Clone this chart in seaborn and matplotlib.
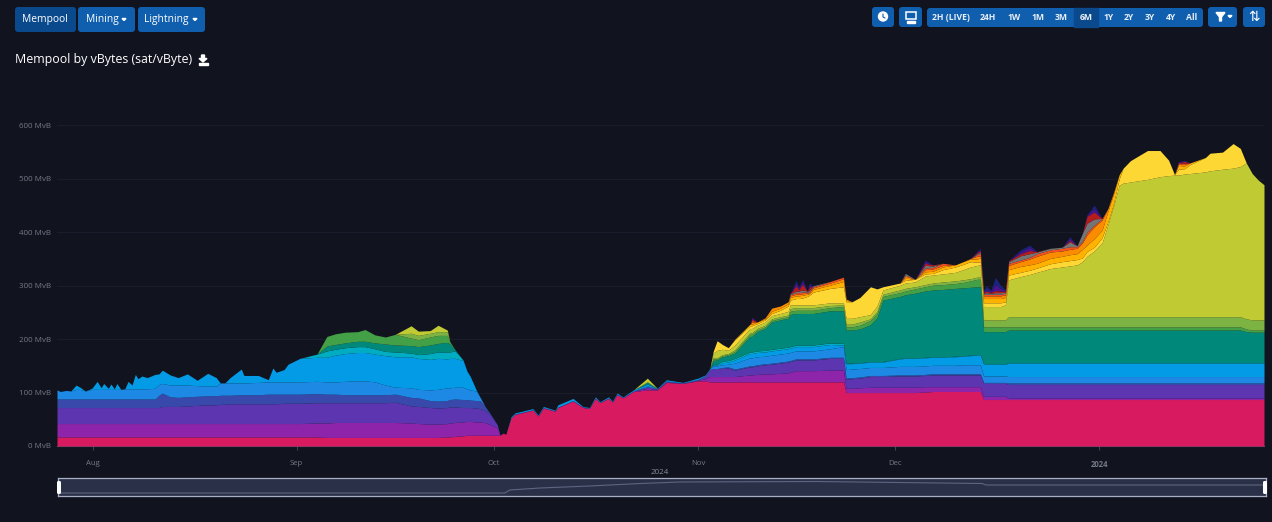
import numpy as np
import pandas as pd
import matplotlib
matplotlib.use("Agg")
import matplotlib.pyplot as plt
from matplotlib.patches import FancyBboxPatch, Rectangle, Circle, Polygon
import seaborn as sns

# days since 1 Aug 2023, same line layout in every series below
days = [
    -5.4, -4.9, -4.0, -3.3, -2.5, -1.9, -1.1, -0.1, 0.7, 1.3,
    1.7, 2.4, 2.8, 3.3, 3.7, 4.3, 4.9, 5.4, 6.0, 6.5,
    6.9, 7.5, 8.3, 9.5, 10.1, 10.6, 11.8, 13.0, 14.4, 15.9,
    17.5, 18.8, 19.4, 20.1, 20.9, 22.6, 23.0, 25.2, 26.7, 27.4,
    27.9, 29.1, 29.7, 31.5, 34.1, 35.6, 36.9, 38.4, 40.3, 41.4,
    42.9, 44.5, 46.0, 48.4, 49.5, 51.3, 52.5, 53.9, 54.3, 55.1,
    56.3, 56.9, 57.4, 58.3, 58.9, 59.6, 60.4, 61.5, 61.9, 62.4,
    62.8, 63.6, 64.2, 66.9, 67.7, 68.5, 70.3, 70.7, 73.0, 74.5,
    75.5, 76.4, 77.1, 78.4, 79.0,
    79.7, 80.6, 82.2, 84.3, 85.8, 87.2, 89.7, 92.0, 93.1, 93.8,
    94.3, 94.9, 95.7, 96.6, 97.6, 99.9, 100.2, 101.0, 102.2, 103.2,
    104.5, 105.7, 106.0, 106.9, 107.3, 107.9, 108.6, 108.9, 109.5, 112.1,
    114.1, 114.5, 115.4, 116.6, 118.2, 119.2, 120.1, 122.7, 123.5, 125.0,
    126.5, 127.7, 129.2, 131.1, 132.3, 133.4, 134.4, 134.9, 135.4, 135.8,
    136.5, 137.2, 138.0, 138.7, 139.2, 141.0, 142.4, 143.5, 145.5, 147.3,
    148.5, 149.6, 150.4, 151.1, 152.2, 153.4, 154.3, 155.1, 156.0, 156.6,
    157.7, 159.2, 160.3, 162.2, 163.5, 164.4, 165.0, 165.9, 166.8, 169.1,
    169.8, 171.7, 173.3, 174.4, 175.3, 176.2, 177.1, 178.0,
]

# MvB per fee band, lowest band first
pink = [
    17, 17, 17, 17, 17, 17, 17, 17, 17, 17,
    17, 17, 17, 17, 17, 17, 17, 17, 17, 17,
    17, 17, 17, 17, 17, 17, 17, 17, 17, 17,
    17, 17, 17, 17, 17, 17, 17, 17, 17, 17,
    17, 17, 17, 17, 17, 16, 16, 16, 16, 16,
    16, 16, 16, 16, 16, 16, 16, 17, 17, 18,
    19, 20, 20, 20, 20, 20, 20, 20, 20, 24,
    22, 53, 59, 67, 56, 71, 65, 72, 84, 72,
    70, 89, 81, 89, 82,
    96, 90, 102, 105, 105, 119, 117, 122, 122, 120,
    120, 120, 120, 120, 120, 120, 120, 120, 120, 120,
    120, 120, 120, 120, 120, 120, 120, 120, 120, 120,
    120, 100, 100, 100, 100, 100, 100, 100, 100, 100,
    101, 102, 102, 102, 102, 102, 102, 102, 87, 87,
    87, 87, 87, 87, 87, 87, 87, 87, 87, 87,
    87, 87, 87, 87, 87, 87, 87, 87, 87, 87,
    87, 87, 87, 87, 87, 87, 87, 87, 87, 87,
    87, 87, 87, 87, 87, 87, 87, 87,
]
purple = [
    25, 25, 25, 25, 25, 25, 25, 25, 25, 25,
    25, 25, 25, 25, 25, 25, 25, 25, 25, 25,
    25, 25, 25, 25, 25, 25, 25, 25, 25, 25,
    25, 25, 25, 25, 25, 25, 25, 25, 25, 25,
    25, 25, 25, 25, 26, 27, 28, 28, 28, 28,
    28, 28, 28, 27, 26, 25, 25, 25, 26, 26,
    26, 26, 26, 25, 25, 24, 20, 14, 1, 0,
    0, 0, 1, 1, 1, 1, 1, 1, 1, 1,
    1, 1, 1, 1, 1,
    1, 1, 1, 3, 1, 1, 1, 1, 4, 10,
    10, 10, 10, 10, 10, 13, 13, 14, 15, 15,
    16, 17, 18, 21, 21, 21, 21, 21, 21, 22,
    22, 8, 8, 9, 10, 10, 10, 10, 10, 10,
    10, 9, 9, 9, 9, 9, 9, 9, 6, 6,
    6, 6, 6, 6, 3, 3, 3, 3, 3, 3,
    3, 3, 3, 3, 3, 3, 3, 3, 3, 3,
    3, 3, 3, 3, 3, 3, 3, 3, 3, 3,
    3, 3, 3, 3, 3, 3, 3, 3,
]
deep_purple = [
    30, 30, 30, 30, 30, 30, 30, 30, 30, 30,
    30, 30, 30, 30, 30, 30, 30, 30, 30, 30,
    30, 30, 30, 30, 30, 32, 32, 32, 33, 34,
    35, 35, 36, 36, 37, 37, 37, 37, 37, 37,
    37, 38, 38, 38, 38, 38, 37, 37, 37, 37,
    37, 37, 38, 32, 32, 31, 30, 30, 30, 29,
    27, 26, 26, 26, 25, 23, 19, 6, 0, 0,
    0, 0, 0, 0, 0, 0, 0, 0, 0, 0,
    0, 0, 0, 0, 0,
    0, 0, 0, 3, 1, 1, 0, 1, 5, 13,
    15, 15, 15, 16, 12, 15, 15, 16, 17, 18,
    19, 20, 20, 20, 20, 20, 20, 20, 20, 22,
    22, 17, 18, 18, 20, 20, 20, 21, 21, 21,
    21, 22, 22, 22, 22, 22, 22, 22, 24, 24,
    24, 24, 24, 24, 25, 25, 25, 25, 25, 25,
    25, 25, 25, 25, 25, 25, 25, 25, 25, 25,
    25, 25, 25, 25, 25, 25, 25, 25, 25, 25,
    25, 25, 25, 25, 25, 25, 25, 25,
]
indigo = [
    16, 16, 16, 16, 16, 16, 16, 16, 16, 16,
    16, 16, 16, 16, 16, 16, 16, 16, 16, 16,
    16, 16, 16, 16, 23, 25, 18, 17, 17, 17,
    17, 17, 17, 17, 16, 17, 17, 17, 18, 18,
    18, 17, 17, 17, 17, 16, 16, 15, 15, 15,
    15, 15, 15, 16, 16, 13, 13, 13, 14, 15,
    15, 15, 14, 14, 15, 8, 2, 0, 0, 0,
    0, 0, 0, 0, 0, 0, 0, 0, 0, 0,
    0, 0, 0, 0, 0,
    0, 0, 0, 0, 0, 0, 0, 0, 0, 0,
    0, 0, 2, 2, 2, 2, 2, 2, 2, 2,
    2, 2, 2, 2, 2, 2, 2, 2, 2, 2,
    2, 2, 2, 2, 2, 2, 2, 2, 2, 2,
    2, 2, 2, 2, 2, 2, 2, 2, 2, 2,
    2, 2, 2, 2, 3, 3, 3, 3, 3, 3,
    3, 3, 3, 3, 3, 3, 3, 3, 3, 3,
    3, 3, 3, 3, 3, 3, 3, 3, 3, 3,
    3, 3, 3, 3, 3, 3, 3, 3,
]
blue = [
    17, 14, 16, 15, 18, 18, 15, 18, 18, 18,
    18, 18, 18, 18, 18, 18, 19, 19, 19, 19,
    19, 19, 19, 20, 20, 18, 22, 23, 22, 20,
    18, 18, 23, 23, 23, 22, 22, 23, 23, 23,
    23, 23, 23, 23, 23, 23, 23, 25, 26, 26,
    24, 18, 13, 18, 16, 20, 22, 24, 22, 22,
    23, 20, 19, 18, 6, 0, 0, 0, 0, 0,
    0, 0, 0, 0, 0, 0, 0, 0, 0, 0,
    0, 0, 0, 0, 0,
    0, 0, 0, 2, 0, 1, 0, 1, 1, 2,
    5, 5, 5, 5, 11, 15, 15, 15, 14, 15,
    15, 15, 15, 15, 15, 15, 15, 15, 15, 16,
    20, 16, 16, 16, 15, 15, 15, 16, 16, 16,
    16, 16, 16, 16, 17, 17, 17, 17, 12, 12,
    12, 12, 12, 12, 12, 12, 12, 12, 12, 12,
    12, 12, 12, 12, 12, 12, 12, 12, 12, 12,
    12, 12, 12, 12, 12, 12, 12, 12, 12, 12,
    12, 12, 12, 12, 12, 12, 12, 12,
]
light_blue = [
    0, 0, 0, 0, 8, 4, 0, 2, 15, 3,
    11, 2, 10, 1, 11, 0, 0, 14, 7, 27,
    19, 24, 21, 26, 20, 25, 19, 14, 21, 10,
    24, 16, 0, 0, 10, 26, 14, 13, 4, 26,
    18, 23, 33, 44, 45, 46, 50, 52, 53, 53,
    52, 55, 57, 58, 58, 57, 58, 54, 55, 54,
    50, 33, 25, 2, 0, 0, 0, 0, 0, 0,
    0, 2, 2, 2, 1, 2, 1, 4, 4, 1,
    1, 2, 1, 2, 1,
    2, 1, 2, 3, 1, 2, 1, 2, 1, 0,
    2, 1, 4, 4, 6, 8, 8, 8, 8, 8,
    8, 8, 8, 8, 8, 8, 8, 8, 8, 8,
    3, 11, 10, 10, 10, 10, 10, 14, 15, 15,
    15, 15, 15, 16, 16, 17, 18, 18, 22, 22,
    22, 22, 22, 22, 25, 25, 25, 25, 25, 25,
    25, 25, 25, 25, 25, 25, 25, 25, 25, 25,
    25, 25, 25, 25, 25, 25, 25, 25, 25, 25,
    25, 25, 25, 25, 25, 25, 25, 25,
]
cyan = [0] * 40 + [
    0, 0, 0, 0, 6, 12, 11, 11, 11, 11,
    10, 8, 9, 7, 7, 11, 12, 13, 12, 14,
    1, 0, 0, 0, 0, 0, 0, 0, 0, 0,
] + [0] * 25 + [
    2, 2, 3, 3, 3, 3, 3, 3, 3, 3,
    3, 3, 3, 3, 3, 3, 3, 3, 3, 3,
    3, 1, 1, 1, 1, 1, 1, 1, 1, 1,
    1, 1, 1, 1, 1, 1, 1, 1, 1, 1,
    1, 1, 1, 1, 1, 1, 1, 1, 1, 1,
    1, 1, 1, 1, 1, 1, 1, 1, 1, 1,
    1, 1, 1, 1, 1, 1, 1, 1, 1, 1,
    1, 1, 1, 1, 1, 1, 1, 1,
]
teal = [0] * 40 + [
    0, 0, 0, 0, 0, 9, 9, 9, 10, 10,
    11, 14, 13, 14, 15, 16, 16, 18, 15, 2,
] + [0] * 25 + [
    0, 0, 0, 4, 0, 0, 0, 0, 0, 0,
    6, 8, 8, 9, 10, 29, 29, 36, 41, 51,
    53, 54, 60, 59, 59, 59, 59, 59, 59, 60,
    61, 62, 62, 63, 69, 82, 115, 116, 118, 121,
    124, 125, 126, 127, 127, 127, 127, 127, 60, 60,
    60, 60, 60, 60, 61, 61, 61, 61, 61, 61,
    61, 61, 61, 61, 61, 61, 61, 61, 61, 61,
    61, 61, 61, 61, 61, 61, 61, 61, 61, 61,
    61, 61, 61, 61, 58, 57, 57, 57,
]
green = [0] * 40 + [
    0, 0, 0, 0, 0, 18, 20, 20, 18, 22,
    15, 13, 20, 14, 13, 15, 15, 13, 4, 0,
] + [0] * 35 + [
    3, 2, 2, 2, 3, 4, 4, 3, 3, 3,
    3, 3, 6, 6, 6, 6, 6, 6, 6, 6,
    8, 6, 6, 7, 8, 8, 7, 7, 7, 8,
    8, 9, 9, 9, 10, 12, 14, 14, 9, 9,
    9, 9, 9, 9, 6, 6, 6, 6, 6, 6,
    6, 6, 6, 6, 6, 6, 6, 6, 6, 6,
    6, 6, 6, 6, 6, 6, 6, 6, 6, 6,
    6, 6, 6, 6, 5, 4, 4, 4,
]
light_green = [0] * 50 + [
    0, 0, 0, 9, 8, 7, 7, 7, 0, 0,
] + [0] * 35 + [
    3, 2, 2, 2, 3, 3, 3, 3, 3, 3,
    3, 3, 5, 5, 5, 5, 5, 5, 5, 4,
    3, 5, 5, 6, 3, 4, 4, 5, 5, 4,
    4, 4, 5, 5, 5, 4, 4, 4, 13, 13,
    13, 13, 13, 13, 19, 19, 19, 19, 19, 19,
    19, 19, 19, 19, 19, 19, 19, 19, 19, 19,
    19, 19, 19, 19, 19, 19, 19, 19, 19, 19,
    19, 19, 19, 19, 19, 19, 19, 19,
]
lime = [0] * 50 + [
    0, 0, 0, 14, 8, 5, 12, 3, 0, 0,
] + [0] * 25 + [
    0, 0, 0, 7, 0, 0, 0, 0, 0, 0,
    8, 14, 10, 6, 9, 8, 8, 6, 6, 6,
    6, 7, 7, 5, 5, 5, 5, 5, 5, 5,
    4, 11, 11, 10, 8, 10, 8, 9, 10, 9,
    16, 15, 15, 16, 19, 22, 22, 23, 25, 25,
    25, 25, 25, 28, 69, 75, 79, 83, 90, 93,
    95, 97, 103, 113, 123, 138, 173, 206, 246, 250,
    252, 255, 257, 262, 264, 265, 265, 267, 268, 271,
    273, 276, 278, 281, 292, 274, 262, 253,
]
yellow = [0] * 95 + [
    3, 18, 9, 5, 10, 5, 5, 3, 4, 4,
    6, 10, 9, 12, 12, 13, 16, 18, 24, 27,
    30, 31, 31, 36, 52, 32, 6, 4, 5, 5,
    4, 3, 8, 10, 10, 10, 6, 6, 7, 7,
    7, 7, 7, 6, 9, 8, 8, 8, 9, 10,
    10, 10, 7, 9, 7, 10, 5, 4, 12, 28,
    40, 48, 54, 49, 29, 1, 11, 10, 17, 27,
    33, 32, 46, 34, 0, 0, 0, 0,
]
amber = [0] * 95 + [
    0, 0, 0, 0, 1, 3, 3, 3, 2, 4,
    4, 4, 5, 5, 5, 5, 4, 3, 5, 6,
    10, 3, 0, 0, 0, 0, 0, 0, 4, 0,
    4, 4, 5, 4, 5, 5, 6, 7, 8, 8,
    8, 8, 8, 8, 10, 11, 10, 9, 10, 10,
    11, 11, 16, 12, 16, 14, 20, 18, 8, 0,
    0, 0, 0, 0, 0, 0, 7, 5, 3, 0,
] + [0] * 8
orange = [0] * 95 + [
    0, 0, 0, 0, 0, 0, 4, 0, 2, 6,
    4, 4, 3, 3, 3, 3, 2, 2, 3, 4,
    5, 2, 0, 0, 0, 0, 0, 0, 4, 0,
    4, 4, 3, 0, 0, 1, 5, 4, 5, 5,
    5, 5, 5, 5, 8, 9, 11, 13, 12, 10,
    10, 10, 12, 19, 22, 19, 5, 3, 0, 0,
    0, 0, 0, 0, 0, 0, 3, 3, 0, 0,
] + [0] * 8
deep_orange = [0] * 95 + [
    0, 0, 0, 0, 0, 0, 3, 0, 0, 0,
    0, 0, 2, 3, 3, 3, 2, 2, 2, 3,
    3, 0, 0, 0, 0, 0, 0, 0, 2, 0,
    3, 3, 4, 0, 0, 0, 3, 4, 3, 3,
    3, 3, 3, 3, 4, 3, 3, 5, 4, 5,
    5, 3, 3, 5, 3, 3, 0, 0, 0, 0,
    0, 0, 0, 0, 0, 0, 2, 2, 0, 0,
] + [0] * 8
grey = [0] * 105 + [
    0, 0, 2, 3, 3, 4, 2, 2, 2, 0,
    0, 0, 0, 0, 0, 0, 0, 0, 3, 0,
    5, 3, 0, 0, 0, 0, 2, 3, 2, 3,
    2, 3, 3, 2, 3, 8, 7, 3, 3, 2,
    9, 2, 15, 17, 12, 0, 0, 0, 0, 0,
] + [0] * 18
red = [0] * 95 + [
    0, 0, 0, 0, 0, 0, 3, 0, 0, 0,
    0, 0, 0, 10, 3, 11, 0, 6, 0, 0,
    0, 0, 0, 0, 0, 0, 0, 0, 0, 0,
    4, 2, 0, 0, 0, 0, 2, 3, 2, 3,
    2, 4, 3, 2, 2, 4, 6, 1, 0, 0,
    3, 0, 0, 13, 13, 0, 0, 0, 0, 0,
    0, 0, 0, 0, 0, 0, 0, 4, 0, 0,
] + [0] * 8
violet = [0] * 95 + [
    0, 0, 0, 0, 0, 0, 3, 0, 0, 0,
    0, 0, 0, 6, 3, 6, 0, 5, 0, 0,
    0, 0, 0, 0, 0, 0, 0, 0, 0, 0,
    4, 0, 0, 0, 0, 0, 2, 2, 2, 4,
    2, 12, 5, 2, 0, 4, 6, 0, 0, 0,
    4, 0, 0, 3, 7, 0, 0, 0, 0, 0,
    0, 0, 0, 0, 0, 0, 2, 0, 0, 0,
] + [0] * 8
navy = [0] * 105 + [
    0, 0, 0, 4, 2, 3, 0, 3, 0, 0,
    0, 0, 0, 0, 0, 0, 0, 0, 0, 0,
    2, 0, 0, 0, 0, 0, 0, 2, 2, 6,
    2, 13, 5, 1, 0, 3, 4, 0, 0, 0,
    3, 0, 0, 0, 6, 0, 0, 0, 0, 0,
    0, 0, 0, 0, 0, 0, 0, 2, 0, 0,
] + [0] * 8

band_colors = ["#D81B60", "#8E24AA", "#5E35B1", "#3949AB", "#1E88E5", "#039BE5",
               "#00ACC1", "#00897B", "#43A047", "#7CB342", "#C0CA33", "#FDD835",
               "#FFB300", "#FB8C00", "#F4511E", "#757575", "#B71C1C", "#4A148C",
               "#1A237E"]

y_ticks = [0, 100, 200, 300, 400, 500, 600]
month_labels = ["Aug", "Sep", "Oct", "Nov", "Dec", "2024"]
month_starts = ["2023-08-01", "2023-09-01", "2023-10-01", "2023-11-01", "2023-12-01", "2024-01-01"]

# navigator: whole history, share of the strip width vs. size
nav_pos = [0, 37, 37.4, 39.9, 44, 48.2, 51.5, 62.7, 76.5, 76.8, 100]
nav_size = [3, 3, 6, 8, 10, 12.5, 14, 14.5, 12.5, 11, 11]

range_labels = [("2H (LIVE)", 951), ("24H", 988), ("1W", 1014), ("1M", 1038), ("3M", 1061),
                ("6M", 1086), ("1Y", 1109), ("2Y", 1129), ("3Y", 1150), ("4Y", 1171), ("All", 1192)]

BG = "#11131f"
BTN = "#0f5fae"
BTN_DARK = "#0a4a8c"
TICK = "#747987"
W, H = 1272, 522

sns.set_theme(style="dark", rc={"figure.facecolor": BG, "axes.facecolor": BG, "savefig.facecolor": BG})
plt.rcParams["font.family"] = ["Open Sans", "DejaVu Sans"]

fig = plt.figure(figsize=(W / 100, H / 100), dpi=100)

# main stacked chart
ax = fig.add_axes([57 / W, (H - 446) / H, 1207 / W, 366 / H])
dates = (pd.Timestamp("2023-08-01") + pd.to_timedelta(days, unit="D")).values
bands = [pink, purple, deep_purple, indigo, blue, light_blue, cyan, teal, green, light_green,
         lime, yellow, amber, orange, deep_orange, grey, red, violet, navy]
ax.stackplot(dates, *bands, colors=band_colors, linewidth=0, zorder=3)
ax.set_xlim(dates[0], dates[-1])
ax.set_ylim(0, 685)
ax.set_yticks(y_ticks)
ax.set_yticklabels([f"{v} MvB" for v in y_ticks], fontsize=5.8, color=TICK)
ax.set_xticks(pd.to_datetime(month_starts))
ax.set_xticklabels(month_labels, fontsize=5.6, color=TICK)
ax.get_xticklabels()[-1].set_fontweight("bold")
ax.tick_params(axis="y", length=0, pad=4)
ax.tick_params(axis="x", length=3, width=0.6, color="#4a4f60", pad=7, bottom=True)
ax.grid(axis="y", color="#1a1d2b", linewidth=0.7, zorder=0)
ax.grid(axis="x", visible=False)
for side in ["top", "left", "right"]:
    ax.spines[side].set_visible(False)
ax.spines["bottom"].set_color("#4a4f60")
ax.spines["bottom"].set_linewidth(0.8)

# navigator strip
nav = fig.add_axes([58 / W, (H - 496) / H, 1208 / W, 18 / H])
nav.set_facecolor("#2b3049")
sns.lineplot(x=nav_pos, y=nav_size, ax=nav, color="#5d6580", linewidth=0.8)
nav.set_xlim(0, 100)
nav.set_ylim(0, 18)
nav.set_xticks([])
nav.set_yticks([])
nav.set_xlabel("")
nav.set_ylabel("")
for spine in nav.spines.values():
    spine.set_color("#a9b0c4")
    spine.set_linewidth(0.9)

# page furniture in pixel coordinates
ui = fig.add_axes([0, 0, 1, 1], facecolor="none")
ui.set_xlim(0, W)
ui.set_ylim(H, 0)
ui.axis("off")


def button(x0, x1, y0, y1, color=BTN):
    ui.add_patch(FancyBboxPatch((x0, y0), x1 - x0, y1 - y0, boxstyle="round,pad=0,rounding_size=3",
                                facecolor=color, edgecolor="none"))


def caret(x, y, size=2):
    ui.add_patch(Polygon([(x - size, y - 1), (x + size, y - 1), (x, y + 1)], color="white"))


button(15, 76, 7, 32, BTN_DARK)
button(78, 135, 7, 32)
button(138, 205, 7, 32)
ui.text(45, 19.5, "Mempool", color="white", fontsize=7.4, ha="center", va="center")
ui.text(102.5, 19.5, "Mining", color="white", fontsize=7.4, ha="center", va="center")
caret(124, 19.5)
ui.text(166, 19.5, "Lightning", color="white", fontsize=7.4, ha="center", va="center")
caret(195, 19.5)

ui.text(15, 59.5, "Mempool by vBytes (sat/vByte)", color="white", fontsize=8.95, ha="left", va="center")
ui.add_patch(Polygon([(201.5, 55), (204.5, 55), (204.5, 58.5), (207, 58.5), (203, 62), (199, 58.5), (201.5, 58.5)],
                     color="white"))
ui.add_patch(Rectangle((198.5, 62.5), 9, 2, color="white"))

button(872, 894, 7, 27)
ui.add_patch(Circle((883, 16.5), 4.5, color="white"))
ui.plot([883, 883, 885], [14, 17, 18], color=BTN, linewidth=0.8)

button(899, 922, 7, 27)
ui.add_patch(Rectangle((906, 12), 10, 7, facecolor="none", edgecolor="white", linewidth=1.1))
ui.add_patch(Rectangle((907, 21), 8, 1.5, color="white"))

button(927, 1203, 8, 27)
ui.add_patch(Rectangle((1074, 8), 24, 19, color=BTN_DARK))
for label, x in range_labels:
    ui.text(x, 17.5, label, color="#e8eef6", fontsize=6.2, fontweight="bold", ha="center", va="center")

button(1208, 1237, 7, 27)
ui.add_patch(Polygon([(1216, 12.5), (1225, 12.5), (1221.5, 17), (1221.5, 21), (1219.5, 21), (1219.5, 17)],
                     color="white"))
caret(1230, 16.5, 2)

button(1243, 1265, 7, 27)
ui.text(1254, 17, "\u21c5", color="white", fontsize=10, ha="center", va="center", family="DejaVu Sans")

# 2024 label over the navigator and its two grips
ui.text(660, 472, "2024", color="#8a8f9b", fontsize=5.8, ha="center", va="center")
for x in (59, 1265):
    ui.add_patch(FancyBboxPatch((x - 2, 481), 4, 13, boxstyle="round,pad=0,rounding_size=1.5",
                                facecolor="white", edgecolor="none"))

plt.savefig("out.png", dpi=100)
